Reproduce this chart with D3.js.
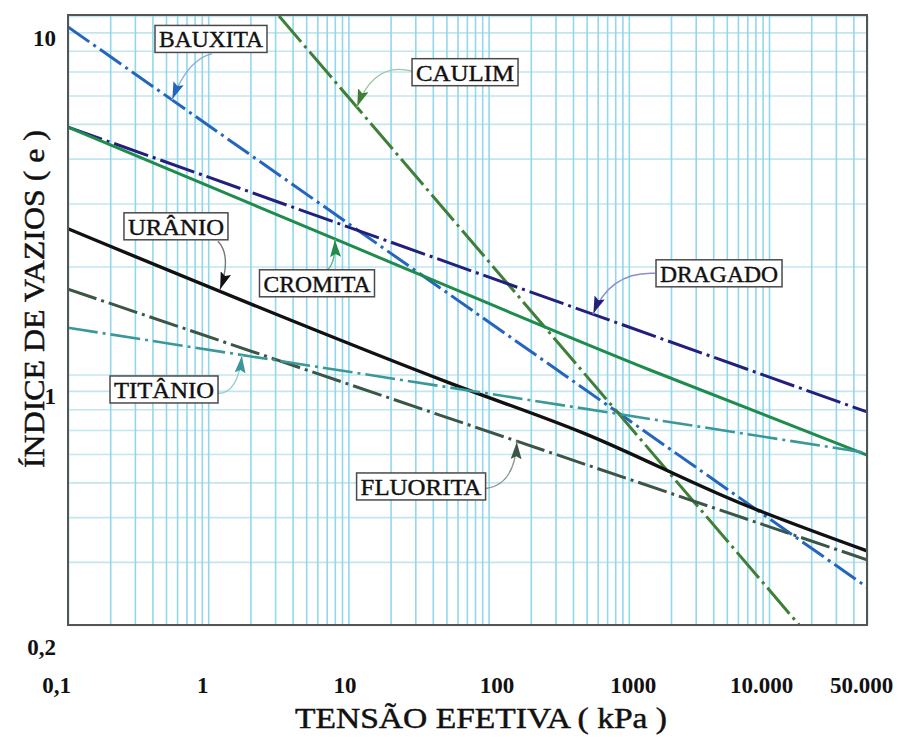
<!DOCTYPE html>
<html><head><meta charset="utf-8">
<script src="https://cdn.jsdelivr.net/npm/d3@7/dist/d3.min.js"></script>
<style>body{margin:0;background:#fff}svg{display:block}</style>
</head><body>
<svg id="chart" width="898" height="747"></svg>
<script>
// ---- data ----
const xTicks = [0.1, 1, 10, 100, 1000, 10000, 50000];
const xTickLabels = ["0,1", "1", "10", "100", "1000", "10.000", "50.000"];
const yTicks = [0.2, 1, 10];
const yTickLabels = ["0,2", "1", "10"];
const xTitle = "TENSÃO EFETIVA ( kPa )";
const yTitle = "ÍNDICE DE VAZIOS ( e )";

const seriesNames = ["BAUXITA", "CAULIM", "DRAGADO", "CROMITA", "URÂNIO", "FLUORITA", "TITÂNIO"];
const bauxita  = [[0.1, 9.32], [50000, 0.255]];
const caulim   = [[3.2, 10], [16400, 0.2]];
const dragado  = [[0.1, 4.90], [50000, 0.786]];
const cromita  = [[0.1, 4.90], [7.76, 2.40], [1416, 1.029], [50000, 0.596]];
const uranio   = [[0.1, 2.55], [53, 0.946], [471, 0.687], [6210, 0.438], [50000, 0.322]];
const fluorita = [[0.1, 1.73], [50000, 0.304]];
const titanio  = [[0.1, 1.35], [50000, 0.604]];
const seriesData = [bauxita, caulim, dragado, cromita, uranio, fluorita, titanio];

// label box centres (data coords) and arrow target x on each series
const labelX = [1.047, 67.9, 4400, 5.97, 0.589, 33, 0.484];
const labelY = [8.63, 6.97, 1.915, 1.796, 2.59, 0.487, 0.908];
const arrowTipX = [0.552, 11.5, 556, 8.0, 1.21, 159, 1.74];

// ---- styles / layout ----
const serif = "'Liberation Serif', 'Times New Roman', Times, 'DejaVu Serif', serif";
const colors = ["#2566bd", "#3f7f37", "#23207c", "#1f8c4d", "#111111", "#3c5646", "#3b9898"];
const dashes = ["26,5,3,5", "34,5,3,5", "36,5,3,5", null, null, "30,5,3,5", "30,5,3,5"];
const widths = [3, 3, 3, 3, 3.4, 3, 2.6];
const arrowStroke = ["#86aede", "#9cc79f", "#8c8cd4", "#5fb883", "#777", "#8a9a8c", "#9ccccc"];
const boxW = [112, 106, 126, 115, 104, 129, 108];
// arrow: start offset from box centre, control point offset from start
const arrowStart = [[1, 15], [-53, -1], [-64, 0], [8, -12], [42, 15], [65, 2], [54, 4]];
const arrowCtrl  = [[-24, 5], [-38, -10], [-45, -2], [11, -5], [14, 15], [29, -4], [20, 0]];

const m = {left: 68, right: 867, top: 16, bottom: 625};
const svg = d3.select("#chart");

const x = d3.scaleLog().domain([0.1, 50000]).range([m.left, m.right]);
const y = d3.scaleLog().domain([0.2, 10]).range([m.bottom, m.top]);

// grid values
const gridX = [];
for (let k = -1; k <= 4; k++) for (let j = 1; j <= 9; j++) { const v = j * Math.pow(10, k); if (v <= 50000 * 1.0001) gridX.push(v); }
const gridY = [];
for (let k = -1; k <= 0; k++) for (let j = 1; j <= 9; j++) { const v = j * Math.pow(10, k); if (v >= 0.2 - 1e-9) gridY.push(v); }
gridY.push(10);

// horizontal grid
svg.append("g").attr("transform", `translate(${m.left},0)`)
  .call(d3.axisLeft(y).tickValues(gridY).tickSize(-(m.right - m.left)).tickFormat(""))
  .call(g => g.select(".domain").remove())
  .call(g => g.selectAll("line").attr("stroke", "#c2e6ee").attr("stroke-width", 1.6));
// vertical grid
svg.append("g").attr("transform", `translate(0,${m.bottom})`)
  .call(d3.axisBottom(x).tickValues(gridX).tickSize(-(m.bottom - m.top)).tickFormat(""))
  .call(g => g.select(".domain").remove())
  .call(g => g.selectAll("line").attr("stroke", "#92d7ec").attr("stroke-width", 1.6));

// clip
svg.append("clipPath").attr("id", "plotclip").append("rect")
  .attr("x", m.left).attr("y", m.top - 1).attr("width", m.right - m.left).attr("height", m.bottom - m.top + 1);

const line = d3.line().x(d => x(d[0])).y(d => y(d[1])).curve(d3.curveMonotoneX);
const gLines = svg.append("g").attr("clip-path", "url(#plotclip)");
seriesData.forEach((s, i) => {
  gLines.append("path").attr("d", line(s)).attr("fill", "none")
    .attr("stroke", colors[i]).attr("stroke-width", widths[i])
    .attr("stroke-dasharray", dashes[i]).attr("stroke-linecap", "butt");
});

// frame
svg.append("rect").attr("x", m.left).attr("y", m.top - 1)
  .attr("width", m.right - m.left).attr("height", m.bottom - m.top + 1)
  .attr("fill", "none").attr("stroke", "#555").attr("stroke-width", 2);

// axes labels
const xNudge = [-12, -6, -4, 8, 4, -8, -6];
svg.append("g").attr("transform", `translate(0,${m.bottom})`)
  .call(d3.axisBottom(x).tickValues(xTicks).tickSize(0).tickFormat((d, i) => xTickLabels[i]))
  .call(g => g.select(".domain").remove())
  .call(g => g.selectAll("text")
    .attr("font-family", serif).attr("font-size", 23)
    .attr("font-weight", "bold").attr("fill", "#111")
    .attr("dy", null).attr("y", 68)
    .attr("dx", (d, i) => xNudge[i]));
svg.append("g").attr("transform", `translate(${m.left},0)`)
  .call(d3.axisLeft(y).tickValues(yTicks).tickSize(0).tickFormat((d, i) => yTickLabels[i]))
  .call(g => g.select(".domain").remove())
  .call(g => g.selectAll("text")
    .attr("font-family", serif).attr("font-size", 23)
    .attr("font-weight", "bold").attr("fill", "#111")
    .attr("dy", 29).attr("x", -12));

svg.append("text").attr("x", 481).attr("y", 728).attr("text-anchor", "middle")
  .attr("font-family", serif).attr("font-size", 30).attr("fill", "#111")
  .attr("stroke", "#111").attr("stroke-width", 0.5)
  .attr("textLength", 372).attr("lengthAdjust", "spacingAndGlyphs").text(xTitle);
svg.append("text").attr("transform", "translate(44,299) rotate(-90)").attr("text-anchor", "middle")
  .attr("font-family", serif).attr("font-size", 30).attr("fill", "#111")
  .attr("stroke", "#111").attr("stroke-width", 0.5)
  .attr("textLength", 338).attr("lengthAdjust", "spacingAndGlyphs").text(yTitle);

// series value at x (log-log interpolation)
function valueAt(s, xv) {
  const lx = Math.log10(xv);
  for (let k = 0; k < s.length - 1; k++) {
    const a = Math.log10(s[k][0]), b = Math.log10(s[k + 1][0]);
    if (lx >= a && lx <= b) {
      const t = (lx - a) / (b - a);
      return Math.pow(10, Math.log10(s[k][1]) + t * (Math.log10(s[k + 1][1]) - Math.log10(s[k][1])));
    }
  }
  return s[s.length - 1][1];
}

// markers
const defs = svg.append("defs");
colors.forEach((c, i) => {
  defs.append("marker").attr("id", "ah" + i).attr("viewBox", "0 0 17 11")
    .attr("markerUnits", "userSpaceOnUse").attr("markerWidth", 17).attr("markerHeight", 11)
    .attr("refX", 18).attr("refY", 5.5).attr("orient", "auto")
    .append("path").attr("d", "M0,0 L17,5.5 L0,11 L3,5.5 Z").attr("fill", c);
});

// annotations
const gAnn = svg.append("g");
seriesNames.forEach((name, i) => {
  const cx = x(labelX[i]), cy = y(labelY[i]);
  const sx = cx + arrowStart[i][0], sy = cy + arrowStart[i][1];
  const qx = sx + arrowCtrl[i][0], qy = sy + arrowCtrl[i][1];
  const tx = x(arrowTipX[i]), ty = y(valueAt(seriesData[i], arrowTipX[i]));
  gAnn.append("path").attr("d", `M${sx},${sy} Q${qx},${qy} ${tx},${ty}`)
    .attr("fill", "none").attr("stroke", arrowStroke[i]).attr("stroke-width", 1.4)
    .attr("marker-end", `url(#ah${i})`);
  const h = 27;
  gAnn.append("rect").attr("x", cx - boxW[i] / 2).attr("y", cy - h / 2)
    .attr("width", boxW[i]).attr("height", h).attr("fill", "#fff")
    .attr("stroke", "#4a4a4a").attr("stroke-width", 1.5);
  gAnn.append("text").attr("x", cx).attr("y", cy + 8.5).attr("text-anchor", "middle")
    .attr("font-family", serif).attr("font-size", 23).attr("fill", "#111")
    .attr("stroke", "#111").attr("stroke-width", 0.4)
    .attr("textLength", boxW[i] - 8).attr("lengthAdjust", "spacingAndGlyphs").text(name);
});
</script>
</body></html>
